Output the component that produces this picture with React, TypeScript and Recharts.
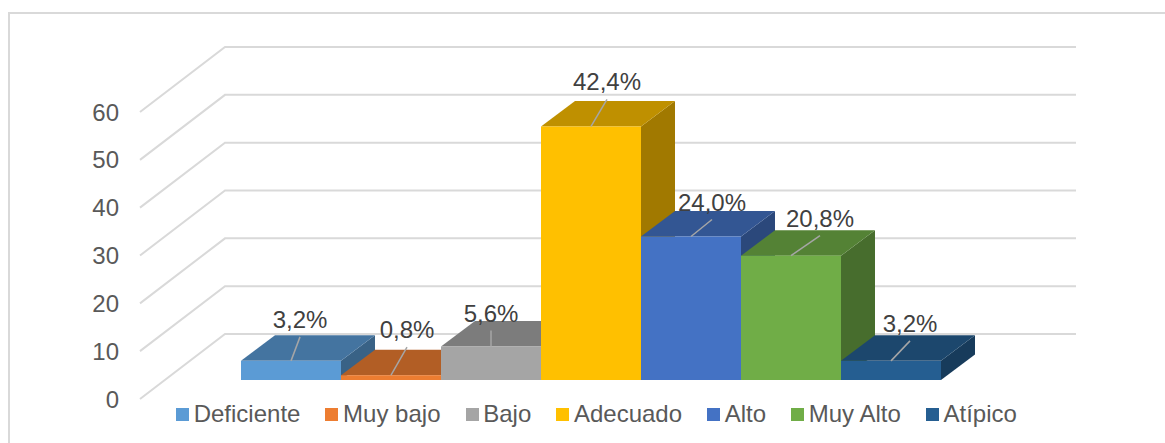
import React from "react";
import { BarChart, Bar, XAxis, YAxis, CartesianGrid, Legend, LabelList } from "recharts";

const seriesNames = ["Deficiente", "Muy bajo", "Bajo", "Adecuado", "Alto", "Muy Alto", "Atípico"];
const seriesValues = [4, 1, 7, 53, 30, 26, 4];
const percentLabels = ["3,2%", "0,8%", "5,6%", "42,4%", "24,0%", "20,8%", "3,2%"];
const seriesColors = ["#5B9BD5", "#ED7D31", "#A5A5A5", "#FFC000", "#4472C4", "#70AD47", "#255E91"];
const yTicks = [0, 10, 20, 30, 40, 50, 60];

// Label layout, relative to the middle of each bar's top front edge
const leaderOffsets = [[9, -24], [16, -28], [0, -16], [16, -27], [21, -17], [29, -20], [19, -20]];

const row: Record<string, string | number> = { name: "Total" };
seriesNames.forEach((n, i) => { row[n] = seriesValues[i]; });
const data = [row];

const FONT = "'Liberation Sans', Arial, sans-serif";
const DEPTH_X = 34;
const DEPTH_Y = 25.5;

function shade(hex: string, k: number) {
  const n = parseInt(hex.slice(1), 16);
  const c = [(n >> 16) & 255, (n >> 8) & 255, n & 255].map((v) => Math.round(v * k));
  return `rgb(${c[0]},${c[1]},${c[2]})`;
}

function Bar3D(props: any) {
  const { x, y, width, height, fill } = props;
  const r = x + width;
  const b = y + height;
  return (
    <g>
      <polygon points={`${r},${y} ${r + DEPTH_X},${y - DEPTH_Y} ${r + DEPTH_X},${b - DEPTH_Y} ${r},${b}`} fill={shade(fill, 0.63)} />
      <polygon points={`${x},${y} ${x + DEPTH_X},${y - DEPTH_Y} ${r + DEPTH_X},${y - DEPTH_Y} ${r},${y}`} fill={shade(fill, 0.75)} />
      <rect x={x} y={y} width={width} height={height} fill={fill} />
    </g>
  );
}

const makeLabel = (i: number) => (props: any) => {
  const { x, y, width } = props;
  const cx = x + width / 2;
  const [dx, dy] = leaderOffsets[i];
  return (
    <g>
      <line x1={cx} y1={y} x2={cx + dx} y2={y + dy} stroke="#A6A6A6" strokeWidth={1.5} />
      <text x={cx + dx} y={y + dy - 17.5} textAnchor="middle" dominantBaseline="central" fontFamily={FONT} fontSize={24} fill="#404040">
        {percentLabels[i]}
      </text>
    </g>
  );
};

const GridLine = (p: any) => {
  const y = p.y1;
  return (
    <polyline
      key={p.key ?? y}
      points={`140,${y + 19} 225,${y - 46} 1076,${y - 46}`}
      fill="none"
      stroke="#D9D9D9"
      strokeWidth={2}
    />
  );
};

const AxisTick = (p: any) => (
  <text x={119} y={p.y + 19} textAnchor="end" dominantBaseline="central" fontFamily={FONT} fontSize={24} fill="#595959">
    {p.payload.value}
  </text>
);

const LegendContent = (p: any) => (
  <div style={{ display: "flex", gap: 25, fontFamily: FONT, fontSize: 24, color: "#595959", lineHeight: "28px", whiteSpace: "nowrap" }}>
    {(p.payload || []).map((e: any) => (
      <div key={e.value} style={{ display: "flex", alignItems: "center", gap: 4.7 }}>
        <span style={{ width: 13, height: 13, background: e.color, display: "inline-block" }} />
        <span>{e.value}</span>
      </div>
    ))}
  </div>
);

export default function App() {
  return (
    <div style={{ position: "absolute", left: 0, top: 0, width: 1165, height: 443, overflow: "hidden", background: "#fff" }}>
      <div style={{ position: "absolute", left: 8, top: 12, width: 1165, height: 443, borderLeft: "2px solid #D9D9D9", borderTop: "2px solid #D9D9D9" }} />
      <BarChart
        width={1165}
        height={443}
        data={data}
        barCategoryGap={0}
        barGap={0}
        margin={{ top: 93, right: 224, bottom: 63, left: 240 }}
        style={{ position: "absolute", left: 0, top: 0 }}
      >
        <CartesianGrid vertical={false} horizontal={GridLine} />
        <XAxis dataKey="name" hide />
        <YAxis width={1} domain={[0, 60]} ticks={yTicks} axisLine={false} tickLine={false} tick={AxisTick} interval={0} />
        <Legend
          layout="horizontal"
          verticalAlign="middle"
          align="center"
          itemSorter={null}
          content={LegendContent}
          wrapperStyle={{ left: 176, top: 400, width: "auto" }}
        />
        {seriesNames.map((n, i) => (
          <Bar key={n} dataKey={n} fill={seriesColors[i]} shape={Bar3D} isAnimationActive={false}>
            <LabelList dataKey={n} content={makeLabel(i)} />
          </Bar>
        ))}
      </BarChart>
    </div>
  );
}
